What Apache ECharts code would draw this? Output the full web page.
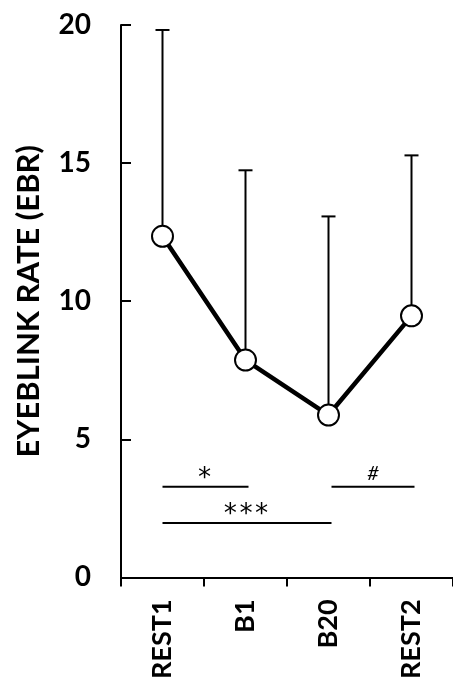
<!DOCTYPE html>
<html><head><meta charset="utf-8">
<script src="https://cdn.jsdelivr.net/npm/echarts@6/dist/echarts.min.js"></script>
<style>html,body{margin:0;padding:0;background:#fff}#c{width:453px;height:682px}</style>
</head><body><div id="c"></div>
<script>
const categories = ['REST1', 'B1', 'B20', 'REST2'];
const meanValues = [12.35, 7.87, 5.88, 9.47];
const upperValues = [19.82, 14.74, 13.07, 15.28];
const yTicks = [0, 5, 10, 15, 20];
const sigFrom = ['REST1', 'REST1', 'B20'];
const sigTo = ['B1', 'B20', 'REST2'];
const sigLevel = [3.28, 1.97, 3.28];
const sigText = ['*', '***', '#'];

const FONT = 'Lato';
const chart = echarts.init(document.getElementById('c'), null, {renderer: 'canvas'});

const errData = categories.map((c, i) => [i, meanValues[i], upperValues[i]]);
const sigData = sigFrom.map((f, i) => [categories.indexOf(f), categories.indexOf(sigTo[i]), sigLevel[i]]);

chart.setOption({
  animation: false,
  backgroundColor: '#fff',
  grid: {left: 121, top: 25, width: 338, height: 555},
  xAxis: {
    type: 'category',
    data: categories,
    boundaryGap: true,
    axisLine: {lineStyle: {color: '#000', width: 2}},
    axisTick: {show: true, inside: false, length: 9, alignWithLabel: false, lineStyle: {color: '#000', width: 2}},
    axisLabel: {rotate: 90, margin: 22, color: '#000', fontFamily: FONT, fontWeight: 'bold', fontSize: 27}
  },
  yAxis: {
    type: 'value',
    min: yTicks[0], max: yTicks[yTicks.length - 1], interval: yTicks[1] - yTicks[0],
    name: 'EYEBLINK RATE (EBR)',
    nameLocation: 'middle',
    nameGap: 77,
    nameTextStyle: {color: '#000', fontFamily: FONT, fontWeight: 'bold', fontSize: 31},
    splitLine: {show: false},
    axisLine: {show: true, lineStyle: {color: '#000', width: 2}},
    axisTick: {show: true, inside: true, length: 10, lineStyle: {color: '#000', width: 2}},
    axisLabel: {margin: 30, color: '#000', fontFamily: FONT, fontWeight: 'bold', fontSize: 28}
  },
  series: [
    {
      type: 'custom',
      z: 1,
      data: errData,
      encode: {x: 0, y: [1, 2]},
      renderItem: function (params, api) {
        const p0 = api.coord([api.value(0), api.value(1)]);
        const p1 = api.coord([api.value(0), api.value(2)]);
        return {
          type: 'group',
          children: [
            {type: 'line', shape: {x1: p0[0], y1: p0[1], x2: p1[0], y2: p1[1]}, style: {stroke: '#000', lineWidth: 2}},
            {type: 'line', shape: {x1: p1[0] - 7, y1: p1[1], x2: p1[0] + 7, y2: p1[1]}, style: {stroke: '#000', lineWidth: 2}}
          ]
        };
      }
    },
    {
      type: 'line',
      z: 3,
      data: meanValues,
      symbol: 'circle',
      symbolSize: 21,
      lineStyle: {color: '#000', width: 4.5},
      itemStyle: {color: '#fff', borderColor: '#000', borderWidth: 2}
    },
    {
      type: 'custom',
      z: 2,
      data: sigData,
      encode: {x: [0, 1], y: 2},
      renderItem: function (params, api) {
        const a = api.coord([api.value(0), api.value(2)]);
        const b = api.coord([api.value(1), api.value(2)]);
        const t = sigText[params.dataIndex];
        const isHash = t === '#';
        const x0 = a[0] + (isHash ? 3 : 0);
        const x1 = b[0] + 3;
        return {
          type: 'group',
          children: [
            {type: 'line', shape: {x1: x0, y1: a[1], x2: x1, y2: b[1]}, style: {stroke: '#000', lineWidth: 2}},
            {type: 'text', x: (x0 + x1) / 2 - (isHash ? 0 : 1), y: a[1] - (isHash ? 13 : 8),
             style: isHash
               ? {text: t, fill: '#000', fontFamily: FONT, fontSize: 20, fontStyle: 'italic', align: 'center', verticalAlign: 'middle'}
               : {text: t, fill: '#000', fontFamily: 'DejaVu Sans Mono', fontSize: 26, align: 'center', verticalAlign: 'middle'}}
          ]
        };
      }
    }
  ]
});
</script></body></html>
